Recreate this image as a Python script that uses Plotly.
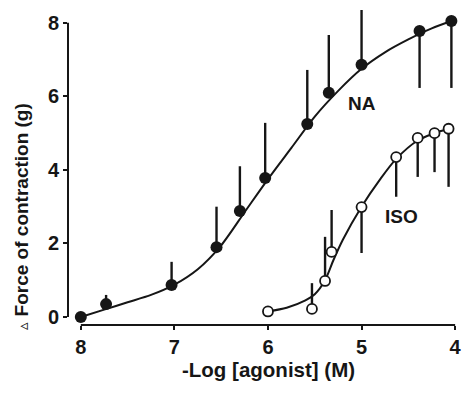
import plotly.graph_objects as go

# NA (noradrenaline) data, filled circles
na_x = [8.0, 7.73, 7.03, 6.55, 6.3, 6.03, 5.58, 5.35, 5.0, 4.38, 4.04]
na_y = [0.0, 0.35, 0.87, 1.9, 2.88, 3.78, 5.25, 6.1, 6.86, 7.78, 8.05]
na_err_up = [0, 0.25, 0.63, 1.1, 1.22, 1.5, 1.47, 1.57, 1.49, 0, 0]
na_err_down = [0, 0, 0, 0, 0, 0, 0, 0, 0, 1.55, 1.82]

# ISO (isoprenaline) data, open circles
iso_x = [6.0, 5.53, 5.39, 5.32, 5.0, 4.63, 4.4, 4.22, 4.07]
iso_y = [0.15, 0.22, 0.98, 1.77, 2.99, 4.35, 4.87, 5.0, 5.12]
iso_err_up = [0, 0.7, 1.2, 1.14, 0, 0, 0, 0, 0]
iso_err_down = [0, 0, 0, 0, 1.25, 1.08, 1.06, 1.06, 1.58]

# Fitted curves
na_curve_x = [8.0, 7.75, 7.5, 7.25, 7.0, 6.75, 6.5, 6.25, 6.0, 5.75, 5.5, 5.25, 5.0, 4.75, 4.5, 4.25, 4.04]
na_curve_y = [0.0, 0.2, 0.4, 0.6, 0.88, 1.3, 1.95, 2.85, 3.75, 4.6, 5.45, 6.15, 6.75, 7.2, 7.55, 7.85, 8.05]
iso_curve_x = [6.0, 5.8, 5.6, 5.5, 5.39, 5.3, 5.2, 5.0, 4.8, 4.63, 4.4, 4.22, 4.07]
iso_curve_y = [0.15, 0.25, 0.45, 0.62, 1.0, 1.55, 2.1, 3.0, 3.75, 4.3, 4.8, 5.0, 5.12]

x_ticks = [8, 7, 6, 5, 4]
y_ticks = [0, 2, 4, 6, 8]

INK = "#161616"
FONT = "Liberation Sans"

fig = go.Figure()

fig.add_trace(go.Scatter(x=na_curve_x, y=na_curve_y, mode="lines",
                         line=dict(color=INK, width=2, shape="spline", smoothing=0.8),
                         hoverinfo="skip", showlegend=False))
fig.add_trace(go.Scatter(x=iso_curve_x, y=iso_curve_y, mode="lines",
                         line=dict(color=INK, width=2, shape="spline", smoothing=0.8),
                         hoverinfo="skip", showlegend=False))

fig.add_trace(go.Scatter(
    x=na_x, y=na_y, mode="markers", name="NA", showlegend=False,
    marker=dict(size=12, color=INK, line=dict(width=0)),
    error_y=dict(type="data", symmetric=False, array=na_err_up, arrayminus=na_err_down,
                 color=INK, thickness=2.4, width=0),
    cliponaxis=False))
fig.add_trace(go.Scatter(
    x=iso_x, y=iso_y, mode="markers", name="ISO", showlegend=False,
    marker=dict(size=10, color="white", line=dict(width=1.8, color=INK)),
    error_y=dict(type="data", symmetric=False, array=iso_err_up, arrayminus=iso_err_down,
                 color=INK, thickness=2.4, width=0),
    cliponaxis=False))

# Offset axis lines
fig.add_shape(type="line", xref="paper", yref="y", x0=0, x1=0, y0=0, y1=8,
              line=dict(color=INK, width=2))
fig.add_shape(type="line", xref="x", yref="paper", x0=8, x1=4, y0=0, y1=0,
              line=dict(color=INK, width=2))

fig.add_annotation(x=5.0, y=5.82, text="NA", showarrow=False,
                   font=dict(family=FONT, size=19, color=INK, weight="bold"))
fig.add_annotation(x=4.57, y=2.72, text="ISO", showarrow=False,
                   font=dict(family=FONT, size=19, color=INK, weight="bold"))

fig.add_annotation(xref="paper", yref="paper", x=-0.152, y=0.345,
                   text="<span style='font-size:15px;font-weight:normal'>▵</span> Force of contraction (g)",
                   textangle=-90, showarrow=False,
                   font=dict(family=FONT, size=19, color=INK, weight="bold"))
fig.add_annotation(xref="paper", yref="paper", x=0.515, y=-0.14,
                   text="-Log [agonist] (M)", showarrow=False, yanchor="middle",
                   font=dict(family=FONT, size=20.5, color=INK, weight="bold"))

fig.update_xaxes(range=[8.137, 3.98], tickvals=x_ticks, ticktext=[str(v) for v in x_ticks],
                 showgrid=False, zeroline=False, showline=False,
                 ticks="outside", ticklen=4, tickwidth=2, tickcolor=INK,
                 tickfont=dict(family=FONT, size=20, color=INK, weight="bold"))
fig.update_yaxes(range=[-0.218, 8.35], tickvals=y_ticks, ticktext=[str(v) for v in y_ticks],
                 showgrid=False, zeroline=False, showline=False,
                 ticks="outside", ticklen=4, tickwidth=2, tickcolor=INK,
                 tickfont=dict(family=FONT, size=20, color=INK, weight="bold"))

fig.update_layout(width=468, height=393, margin=dict(l=68, r=6, t=10, b=68),
                  paper_bgcolor="white", plot_bgcolor="white", showlegend=False)

fig.write_html("out.html")
